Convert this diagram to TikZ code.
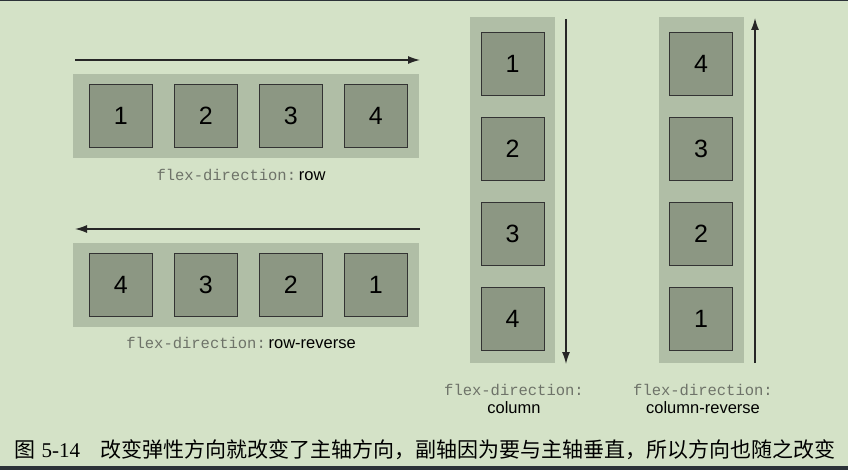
\documentclass[tikz,border=0pt]{standalone}
\usepackage{fontspec}
\usepackage{xcolor}
\usepackage{tikz}
\usetikzlibrary{arrows.meta, positioning}

\newfontfamily\digitfont{Liberation Sans}
\newfontfamily\codefont{Liberation Mono}
\newfontfamily\capserif{Liberation Serif}
\newfontfamily\cjk{Noto Sans CJK SC}

\definecolor{pagebg}{RGB}{212,226,199}
\definecolor{flexbg}{RGB}{176,190,166}
\definecolor{itembg}{RGB}{140,151,131}
\definecolor{edgeband}{RGB}{44,50,56}
\definecolor{codegray}{RGB}{110,115,105}

\begin{document}
\begin{tikzpicture}[
        x=1pt, y=-1pt,
        node distance=21pt,
        container/.style={rectangle, fill=flexbg, inner sep=0pt},
        item/.style={rectangle, draw=black!80, fill=itembg, line width=1pt, minimum size=63pt, inner sep=0pt, font=\digitfont\fontsize{25}{25}\selectfont},
        axis/.style={-{Latex[length=12pt, width=8pt]}, line width=1.3pt, draw=black!85},
        prop/.style={align=center, inner sep=0pt, font=\fontsize{16.5}{18.5}\selectfont}
    ]
        % page
        \fill[pagebg] (0,0) rectangle (848,470);
        \fill[edgeband] (0,0) rectangle (848,1.5);
        \fill[edgeband] (0,466) rectangle (848,470);
        \useasboundingbox (0,0) rectangle (848,470);

        % row
        \node[container, minimum width=346pt, minimum height=84pt] (row) at (246,116) {};
        \node[item, right=16pt of row.west, anchor=west] (r1) {1};
        \node[item, right=of r1] (r2) {2};
        \node[item, right=of r2] (r3) {3};
        \node[item, right=of r3] (r4) {4};
        \coordinate (rowstart) at (75,60);
        \coordinate (rowend) at (420,60);
        \draw[axis] (rowstart) -- (rowend);
        \node[prop] (rowlabel) at (241,175) {{\codefont\fontsize{15.5}{18}\selectfont\color{codegray}flex-direction:}\,{\digitfont row}};

        % row-reverse
        \node[container, minimum width=346pt, minimum height=84pt] (rrow) at (246,285) {};
        \node[item, right=16pt of rrow.west, anchor=west] (rr4) {4};
        \node[item, right=of rr4] (rr3) {3};
        \node[item, right=of rr3] (rr2) {2};
        \node[item, right=of rr2] (rr1) {1};
        \coordinate (rrowstart) at (420,229);
        \coordinate (rrowend) at (75,229);
        \draw[axis] (rrowstart) -- (rrowend);
        \node[prop] (rrowlabel) at (241,343) {{\codefont\fontsize{15.5}{18}\selectfont\color{codegray}flex-direction:}\,{\digitfont row-reverse}};

        % column
        \node[container, minimum width=85pt, minimum height=346pt] (col) at (512.5,190) {};
        \node[item, below=15pt of col.north, anchor=north] (c1) {1};
        \node[item, below=of c1] (c2) {2};
        \node[item, below=of c2] (c3) {3};
        \node[item, below=of c3] (c4) {4};
        \coordinate (colstart) at (566,19);
        \coordinate (colend) at (566,364);
        \draw[axis] (colstart) -- (colend);
        \node[prop] (collabel) at (514,399) {{\codefont\fontsize{15.5}{18}\selectfont\color{codegray}flex-direction:}\\{\digitfont column}};

        % column-reverse
        \node[container, minimum width=85pt, minimum height=346pt] (rcol) at (701,190) {};
        \node[item, below=15pt of rcol.north, anchor=north] (rc4) {4};
        \node[item, below=of rc4] (rc3) {3};
        \node[item, below=of rc3] (rc2) {2};
        \node[item, below=of rc2] (rc1) {1};
        \coordinate (rcolstart) at (755,363);
        \coordinate (rcolend) at (755,18);
        \draw[axis] (rcolstart) -- (rcolend);
        \node[prop] (rcollabel) at (703,399) {{\codefont\fontsize{15.5}{18}\selectfont\color{codegray}flex-direction:}\\{\digitfont column-reverse}};

        % caption
        \node[anchor=west, inner sep=0pt, font=\fontsize{21}{21}\selectfont] (fignum) at (14,450) {{\cjk 图} {\capserif 5-14}};
        \node[anchor=west, inner sep=0pt, font=\cjk\fontsize{21}{21}\selectfont] (caption) at (100,450) {改变弹性方向就改变了主轴方向，副轴因为要与主轴垂直，所以方向也随之改变};
    \end{tikzpicture}
\end{document}
